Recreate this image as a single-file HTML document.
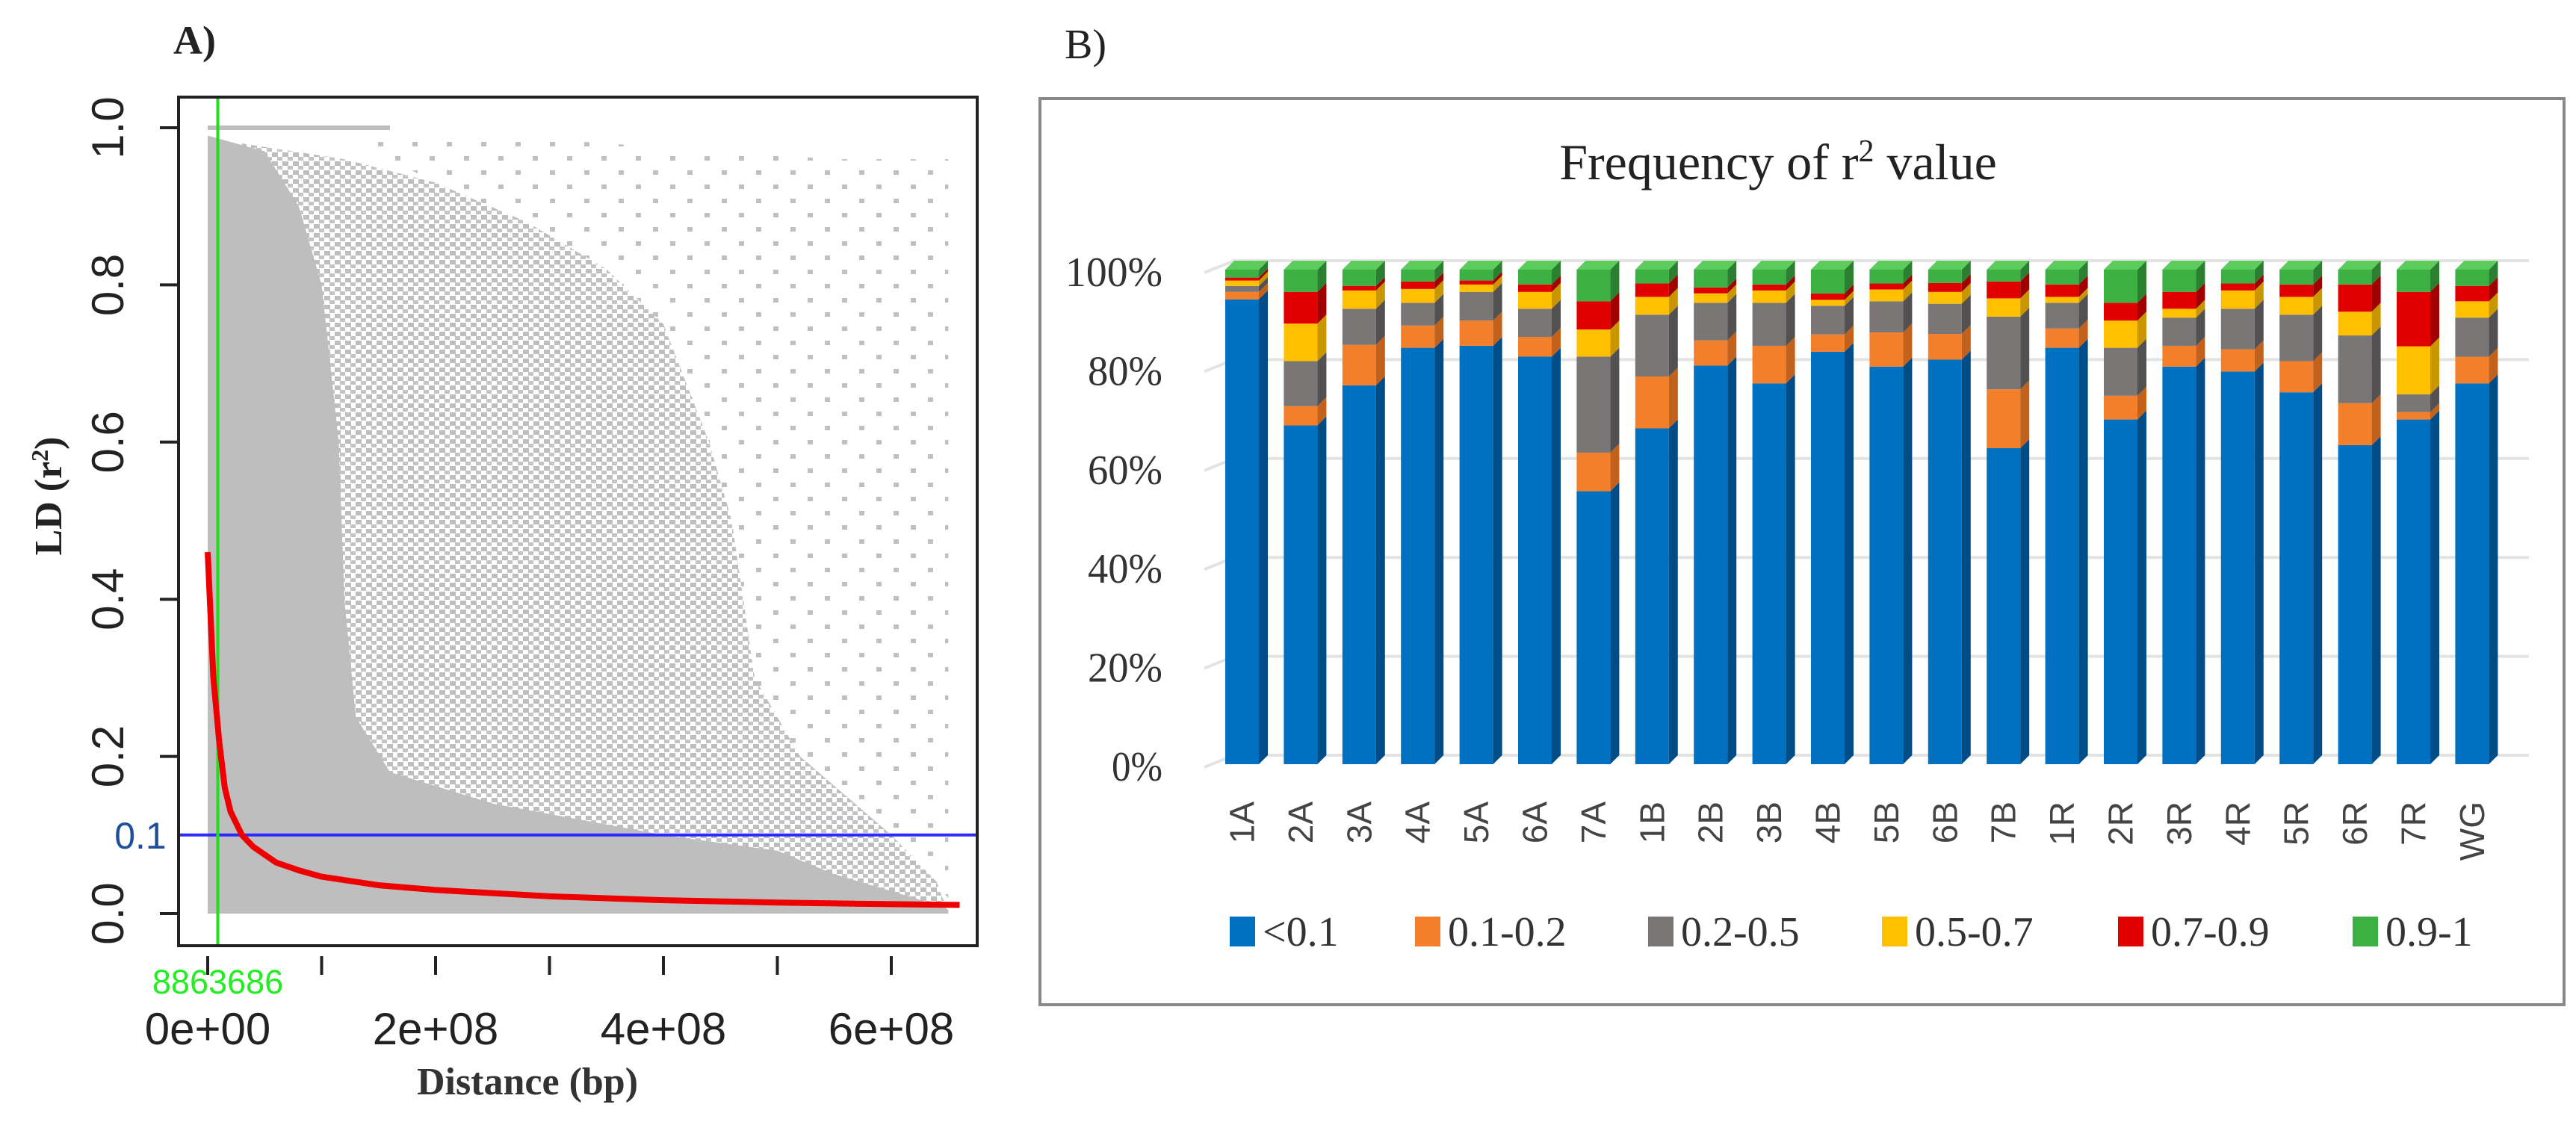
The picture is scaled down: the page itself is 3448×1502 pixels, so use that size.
<!DOCTYPE html>
<html><head><meta charset="utf-8"><style>
html,body{margin:0;padding:0;background:#fff}
svg{display:block}
</style></head><body>
<svg id="fig" width="3448" height="1502" viewBox="0 0 3448 1502" xmlns="http://www.w3.org/2000/svg">
<defs>
<pattern id="dotsMed" width="14" height="12" patternUnits="userSpaceOnUse">
<rect x="0" y="0" width="8" height="6" fill="#bebebe"/><rect x="7" y="6" width="7" height="5" fill="#c4c4c4"/>
</pattern>
<pattern id="dotsSparse" width="46" height="38" patternUnits="userSpaceOnUse">
<rect x="0" y="0" width="7" height="6" fill="#c0c0c0"/><rect x="23" y="19" width="7" height="6" fill="#c0c0c0"/>
</pattern>
</defs>
<g id="panelA"></g>
<g id="panelB"></g>
</svg>
<script>
// ---------- Panel A data ----------
const xTicks = [0, 1e8, 2e8, 3e8, 4e8, 5e8, 6e8];
const xTickLabels = ["0e+00", "", "2e+08", "", "4e+08", "", "6e+08"];
const yTicks = [0, 0.2, 0.4, 0.6, 0.8, 1.0];
const yTickLabels = ["0.0", "0.2", "0.4", "0.6", "0.8", "1.0"];
const curveX = [0, 0.5e7, 1e7, 1.5e7, 2e7, 3e7, 4e7, 6e7, 8e7, 1e8, 1.5e8, 2e8, 3e8, 4e8, 5e8, 6e8, 6.6e8];
const curveY = [0.46, 0.3, 0.22, 0.16, 0.13, 0.1, 0.085, 0.065, 0.055, 0.047, 0.036, 0.03, 0.022, 0.017, 0.014, 0.012, 0.011];
const denseX = [0, 0, 0.5e8, 0.8e8, 1.0e8, 1.15e8, 1.2e8, 1.3e8, 1.6e8, 2.5e8, 4e8, 5e8, 5.5e8, 6.2e8, 6.5e8, 6.5e8];
const denseY = [0, 0.99, 0.97, 0.9, 0.8, 0.6, 0.4, 0.25, 0.18, 0.14, 0.1, 0.08, 0.05, 0.02, 0.005, 0];
const medX = [0.3e8, 1.2e8, 2.0e8, 2.8e8, 3.5e8, 4.0e8, 4.4e8, 4.6e8, 4.7e8, 4.8e8, 5.2e8, 5.6e8, 6.0e8, 6.4e8, 6.5e8, 0.3e8];
const medY = [0.98, 0.96, 0.93, 0.88, 0.82, 0.75, 0.6, 0.5, 0.4, 0.3, 0.2, 0.15, 0.1, 0.04, 0.0, 0.0];
const sparseX = [1.2e8, 2.5e8, 3.5e8, 4.5e8, 5.5e8, 6.5e8, 6.5e8, 6.0e8, 5.6e8, 5.2e8, 4.8e8, 4.6e8, 4.4e8, 4.0e8, 3.5e8, 2.8e8, 2.0e8];
const sparseY = [0.99, 0.99, 0.98, 0.97, 0.96, 0.96, 0.02, 0.1, 0.15, 0.2, 0.3, 0.5, 0.6, 0.75, 0.82, 0.88, 0.93];
const ldThreshold = 0.1;
const cutoffDistance = 8863686;

// ---------- Panel B data ----------
const categories = ["1A","2A","3A","4A","5A","6A","7A","1B","2B","3B","4B","5B","6B","7B","1R","2R","3R","4R","5R","6R","7R","WG"];
const seriesNames = ["<0.1","0.1-0.2","0.2-0.5","0.5-0.7","0.7-0.9","0.9-1"];
const sLt01 = [94,68.5,76.6,84.2,84.6,82.4,55.2,67.9,80.6,77,83.4,80.4,81.8,63.9,84.2,69.7,80.4,79.4,75.2,64.5,69.7,77];
const s0102 = [1.5,3.9,8.2,4.5,5.1,4,7.8,10.5,5.1,7.6,3.5,6.9,5.2,11.9,3.9,4.8,4.2,4.5,6.3,8.5,1.5,5.4];
const s0205 = [1.2,9.1,7.3,4.6,5.8,5.7,19.4,12.5,7.6,8.7,5.8,6.3,6.1,14.7,5.2,9.7,5.7,8.2,9.4,13.7,3.6,7.9];
const s0507 = [1.1,7.6,3.7,2.8,1.5,3.4,5.5,3.6,1.9,2.5,1.2,2.4,2.4,3.7,1.2,5.5,1.8,3.7,3.6,4.8,9.7,3.3];
const s0709 = [0.6,6.4,0.9,1.5,0.8,1.5,5.7,2.7,1.2,1.2,1.3,1.2,1.8,3.4,2.5,3.6,3.4,1.4,2.5,5.5,11,3.1];
const s0910 = [1.6,4.5,3.3,2.4,2.2,3,6.4,2.8,3.6,3,4.8,2.8,2.7,2.4,3,6.7,4.5,2.8,3,3,4.5,3.3];
const pctTicks = [0,20,40,60,80,100];
const pctLabels = ["0%","20%","40%","60%","80%","100%"];

const NS = "http://www.w3.org/2000/svg";
function mk(tag, attrs, parent, text){
  const e = document.createElementNS(NS, tag);
  for (const k in attrs) e.setAttribute(k, attrs[k]);
  if (text !== undefined) e.textContent = text;
  parent.appendChild(e);
  return e;
}

// ---------- Panel A ----------
const A = document.getElementById('panelA');
const ax = v => 278 + v / 6e8 * (1193 - 278);
const ay = v => 1223 - v * (1223 - 171);
function poly(xs, ys){ return xs.map((x,i)=>ax(x).toFixed(1)+","+ay(ys[i]).toFixed(1)).join(" "); }

let e;
e = mk('text', {x:232, y:72, 'font-family':'Liberation Serif, serif', 'font-size':54, 'font-weight':'bold', fill:'#222'}, A, 'A)');



const scatter = mk('g', {}, A);


mk('polygon', {points: poly(sparseX, sparseY), fill:'url(#dotsSparse)'}, scatter);
mk('polygon', {points: poly(medX, medY), fill:'url(#dotsMed)'}, scatter);
mk('polygon', {points: poly(denseX, denseY), fill:'#bebebe'}, scatter);
mk('line', {x1:ax(0), x2:ax(1.6e8), y1:ay(1), y2:ay(1), stroke:'#bebebe', 'stroke-width':6}, scatter);

e = mk('line', {x1:239, x2:1308, y1:ay(ldThreshold), y2:ay(ldThreshold), stroke:'#2b2bff', 'stroke-width':4}, A);


e = mk('text', {x:188, y:ay(ldThreshold)+18, 'font-family':'Liberation Sans, sans-serif', 'font-size':50, fill:'#1f4e9a', 'text-anchor':'middle'}, A, '0.1');



e = mk('line', {x1:ax(cutoffDistance), x2:ax(cutoffDistance), y1:130, y2:1266, stroke:'#22dd22', 'stroke-width':4}, A);



e = mk('polyline', {points: poly(curveX, curveY), fill:'none', stroke:'#ee0000', 'stroke-width':8, 'stroke-linejoin':'round'}, A);



e = mk('rect', {x:239, y:130, width:1069, height:1136, fill:'none', stroke:'#222', 'stroke-width':4}, A);



xTicks.forEach((t,i)=>{
  const x = ax(t);
  const l = mk('line', {x1:x, x2:x, y1:1280, y2:1305, stroke:'#222', 'stroke-width':4}, A);
  
  
  if (xTickLabels[i]) {
    const tx = mk('text', {x:x, y:1398, 'font-family':'Liberation Sans, sans-serif', 'font-size':60, fill:'#222', 'text-anchor':'middle'}, A, xTickLabels[i]);
    
    
  }
});
yTicks.forEach((t,i)=>{
  const y = ay(t);
  const l = mk('line', {x1:214, x2:239, y1:y, y2:y, stroke:'#222', 'stroke-width':4}, A);
  
  
  const tx = mk('text', {x:0, y:0, transform:`translate(165,${y}) rotate(-90)`, 'font-family':'Liberation Sans, sans-serif', 'font-size':60, fill:'#222', 'text-anchor':'middle'}, A, yTickLabels[i]);
  
  
});
e = mk('text', {x:ax(cutoffDistance), y:1330, 'font-family':'Liberation Sans, sans-serif', 'font-size':45, fill:'#22ee22', 'text-anchor':'middle'}, A, String(cutoffDistance));


e = mk('text', {x:706, y:1465, 'font-family':'Liberation Serif, serif', 'font-size':52, 'font-weight':'bold', fill:'#333', 'text-anchor':'middle'}, A, 'Distance (bp)');


e = mk('text', {x:0, y:0, transform:'translate(82,664) rotate(-90)', 'font-family':'Liberation Serif, serif', 'font-size':52, 'font-weight':'bold', fill:'#222', 'text-anchor':'middle'}, A);


e.innerHTML = 'LD (r<tspan font-size="32" dy="-18">2</tspan><tspan dy="18">)</tspan>';

// ---------- Panel B ----------
const B = document.getElementById('panelB');
e = mk('text', {x:1425, y:78, 'font-family':'Liberation Serif, serif', 'font-size':56, fill:'#222'}, B, 'B)');


e = mk('rect', {x:1392, y:132, width:2040, height:1213, fill:'#fff', stroke:'#888', 'stroke-width':4}, B);


e = mk('text', {x:2380, y:240, 'font-family':'Liberation Serif, serif', 'font-size':68, fill:'#222', 'text-anchor':'middle'}, B);


e.innerHTML = 'Frequency of r<tspan font-size="42" dy="-24">2</tspan><tspan dy="24"> value</tspan>';

const by0 = 1023, by100 = 361, dX = 12, dY = 12;
const by = v => by0 - v / 100 * (by0 - by100);
const bx = i => 1640 + i * 78.4;
const bw = 45;

pctTicks.forEach((t,i)=>{
  const y = by(t);
  const g = mk('polyline', {points:`${1612},${y+4} ${1640+dX},${y-dY} ${3385},${y-dY}`, fill:'none', stroke:'#e3e3e3', 'stroke-width':4}, B);
  
  
  const tx = mk('text', {x:1556, y:y+22, 'font-family':'Liberation Serif, serif', 'font-size':56, fill:'#333', 'text-anchor':'end', textLength: t===100?130:(t===0?68:100), lengthAdjust:'spacingAndGlyphs'}, B, pctLabels[i]);
  
  
});

const seriesVals = [sLt01, s0102, s0205, s0507, s0709, s0910];
const front = ['#0070c0','#f47f2a','#7a7676','#ffc000','#e00000','#3cb043'];
const side  = ['#004c86','#c2611c','#525050','#c99600','#a00000','#2a8030'];
const topc  = ['#1a86d6','#ff9a4a','#969292','#ffd23a','#ff2a2a','#5ccc5c'];

categories.forEach((c,i)=>{
  const g = mk('g', {}, B);
  
  
  const x = bx(i);
  let cum = 0;
  seriesVals.forEach((s,k)=>{
    const v0 = cum, v1 = cum + s[i];
    cum = v1;
    const y0 = by(v0), y1 = by(v1);
    const seg = mk('rect', {x:x, y:y1, width:bw, height:Math.max(0,y0-y1), fill:front[k]}, g);
    
    
    mk('polygon', {points:`${x+bw},${y0} ${x+bw+dX},${y0-dY} ${x+bw+dX},${y1-dY} ${x+bw},${y1}`, fill:side[k]}, g);
    if (k === seriesVals.length-1) {
      mk('polygon', {points:`${x},${y1} ${x+dX},${y1-dY} ${x+bw+dX},${y1-dY} ${x+bw},${y1}`, fill:topc[k]}, g);
    }
  });
  const lbl = mk('text', {x:0, y:0, transform:`translate(${x+bw/2+16},1073) rotate(-90)`, 'font-family':'Liberation Sans, sans-serif', 'font-size':46, fill:'#444', 'text-anchor':'end'}, B, c);
  
  
});

const legX = [1646, 1894, 2206, 2519, 2835, 3149];
seriesNames.forEach((n,k)=>{
  const g = mk('g', {}, B);
  
  
  mk('rect', {x:legX[k], y:1227, width:34, height:40, fill:front[k]}, g);
  mk('text', {x:legX[k]+44, y:1266, 'font-family':'Liberation Serif, serif', 'font-size':56, fill:'#333'}, g, n);
});
</script>
</body></html>
